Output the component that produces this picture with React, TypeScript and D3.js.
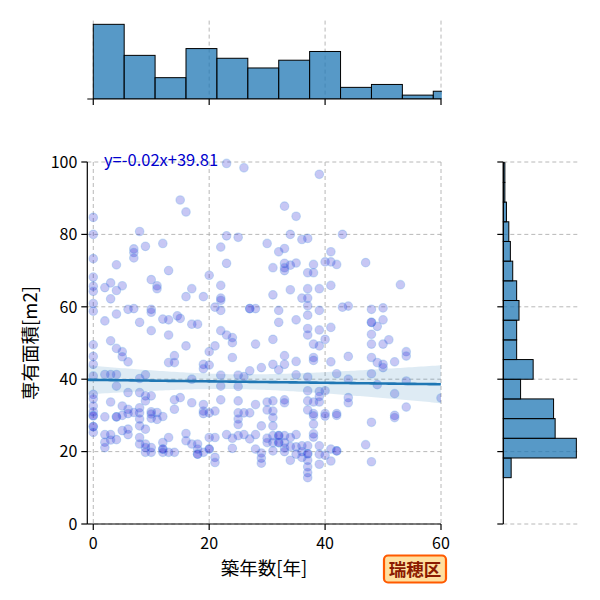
import React from 'react';
import * as d3 from 'd3';

// 築年数 / 専有面積 pairs
const points: [number, number][] = [
    [15, 89.5], [16, 86.2], [0, 84.7], [0, 80], [8, 80.8], [7, 76], [7, 75], [7, 73.5], [9, 76.7], [12, 77.5],
    [0, 73.3], [4, 71.6], [13, 70], [0, 68.2], [0, 65.7], [0, 64.3], [2, 65.3], [3, 66.6], [4, 64.5], [5, 65.8],
    [3, 62.2], [10, 67.5], [11, 65.8], [11, 65], [16, 62.8], [17, 65], [19, 62.8], [0, 60.9], [0, 58.8], [4, 58],
    [6, 59.3], [7, 59.5], [10, 59.3], [10, 58.5], [14.5, 57.5],
    [23, 99.6], [26, 98.4], [39, 96.6], [33, 87.8], [35, 85], [23, 79.6], [25, 79.2], [22, 76.5], [34, 80], [36, 78.6],
    [37, 78.9], [30, 77.5], [32, 75.2], [33, 76.1], [23, 72], [31, 70.8], [33, 72], [33, 70.8], [33, 70], [34, 71.5],
    [35, 72.1], [38, 71.7], [37, 69.4], [38, 69.4], [40, 72.4], [20, 68.7], [22, 65.9], [22, 62.4], [22, 61.8], [31, 63.3],
    [34, 64.7], [36, 62.4], [37, 65], [37, 62.4], [37, 60.3], [39, 65], [21, 59.9], [22, 59], [27, 59.5], [27, 59.5],
    [28, 59.5], [32, 59], [37, 57.7], [39, 59],
    [43, 80], [41, 75.2], [41, 72.4], [42, 71.7], [47, 72.2], [41, 65.9], [53, 66.1], [43, 59.9], [44, 60.2], [48, 59.3],
    [50, 59.7],
    [2, 56.1], [8, 55.7], [12, 56.6], [13, 56.4], [15, 56.8], [17, 55.2], [18, 55.2], [10, 53.4], [13, 52.2], [22, 53.4],
    [23, 52.2], [24, 51.5], [24, 50.1], [28, 49.7], [3, 50.6], [0, 49.5], [4, 48.5], [5, 47.6], [5, 46.2], [6, 44.8],
    [0, 46.3], [0, 44.1], [16, 49.2], [14, 46.5], [13, 44.6], [14, 44.6], [20, 47.6], [20, 43.9], [19, 44.1], [19, 42.9],
    [21, 49.2], [24, 46], [27, 42.3], [29, 43.2], [0, 40.9], [2, 41.3], [3, 41.3], [4, 41.3], [4, 38.1], [8, 40.2],
    [9, 41.2], [22, 41.1], [22, 38.1], [25, 41.1], [26, 40.7], [25, 38], [17, 40], [0, 35.8], [0, 34.6], [3, 33.7],
    [6, 36.3], [8, 36.3], [9, 35.4], [10, 35.4], [9, 34], [14, 34.3], [15, 34.9], [17, 33.5], [19, 33], [19, 31.2],
    [22, 34.3], [25, 34], [5, 32.6], [6, 31.7], [8, 32.1], [8, 30.7], [0, 32.6], [0, 31], [14, 31.7], [10, 31],
    [11, 30.8], [20, 30.7], [21, 31.2], [25, 30.7], [26, 30.7], [27, 30.7], [28, 33],
    [32, 55.7], [35, 56.4], [37, 54], [37, 52.2], [39, 53.6], [41, 54.3], [40, 51], [31, 51], [38, 49.7], [39, 49.2],
    [48, 55.7], [48, 55.7], [49, 54.6], [50, 56.4], [48, 52.4], [48, 49.7], [50, 49.7], [51, 50.9], [44, 46.3], [33, 46.5],
    [33, 44.1], [31, 44.1], [32, 42.6], [35, 44.9], [38, 46], [38, 45.2], [41, 44.8], [48, 46], [49, 44.6], [50, 44.1],
    [50, 43.2], [52, 44.8], [54, 47.6], [54, 46.4], [35, 41.2], [37, 40.6], [42, 41.5], [48, 41.5], [44, 40], [54, 39.5],
    [37, 36.8], [39, 36.6], [40, 36.8], [52, 36], [49, 38.5], [30, 33.7], [31, 34], [33, 34.3], [33, 33.5], [37, 34],
    [38, 33.7], [39, 33.7], [39, 35.2], [44, 34.9], [44, 33.5], [54, 32.3], [60, 34.8], [30, 31.5], [31, 31.2], [37, 31.5],
    [38, 30.5], [40, 30.5], [42, 30.5], [52, 30],
    [0, 29.9], [0, 29.9], [0, 26.9], [0, 26.9], [0, 25.3], [2, 29.6], [4, 29.6], [4, 29.6], [5, 30], [6, 30.5],
    [7, 30.8], [8, 29], [8, 27.1], [9, 26.2], [10, 30.4], [10, 29.2], [11, 28.9], [12, 29.7], [2, 24.7], [3, 24.7],
    [4, 23.3], [3, 23.2], [5, 25.8], [6, 24.7], [6, 26.2], [2, 22.6], [2, 21.1], [8, 23.9], [8, 22.1], [9, 22.1],
    [9, 21.1], [10, 21.1], [10, 19.8], [9, 19.8], [12, 22.5], [12, 20.7], [12, 20.7], [12, 19.8], [13, 23.9], [13, 19.8],
    [14, 19.8], [16, 25], [16, 23], [17, 22.1], [18, 22.1], [18, 20.7], [18, 19.3], [18, 19.3], [19, 19.8], [20, 20.7],
    [20, 20.7], [20, 23.9], [21, 23.9], [21, 18.4], [21, 17], [19, 30.5], [23, 24.7], [24, 23.7], [25, 24.4], [26, 24.7],
    [27, 23.5], [28, 24.7], [29, 27.1], [24, 20.9], [28, 20.7], [29, 19.6], [29, 18.2], [29, 16.8], [25, 29], [25, 27.5],
    [31, 29.4], [31, 27.1], [31, 24.4], [31, 22.5], [31, 20.2], [32, 22.5], [32, 22.5], [32, 24.4], [32, 24.4], [33, 24.4],
    [33, 22.5], [33, 21], [33, 20], [34, 23.9], [34, 21.4], [34, 17.6], [35, 24.7], [35, 21.3], [35, 19.3], [36, 21.6],
    [36, 20], [36, 18.4], [37, 21.6], [37, 19.4], [37, 19.4], [37, 17.6], [37, 15.8], [37, 14.2], [37, 12.8], [38, 29.9],
    [38, 27.6], [38, 24.9], [38, 24], [39, 21.6], [39, 19.3], [39, 16.5], [40, 29.8], [40, 19], [41, 20.7], [41, 17.4],
    [42, 30], [42, 20.2], [42, 20.2], [47, 21.9], [48, 28.1], [48, 17.2], [52, 29.4], [30, 23.7], [30, 22.5],
];

// marginal histograms (counts)
const xBinStart = 0;
const xBinEnd = 64;
const xHistCounts = [77, 45, 22, 52, 42, 32, 40, 49, 12, 15, 4, 8];
const yBinStart = 12.8;
const yBinEnd = 99.8;
const yHistCounts = [10, 93, 66, 64, 22, 38, 17, 17, 20, 17, 12, 9, 7, 4, 2, 2];

const slope = -0.02;
const intercept = 39.81;
const xTicks = [0, 20, 40, 60];
const yTicks = [0, 20, 40, 60, 80, 100];
const xLabel = '築年数[年]';
const yLabel = '専有面積[m2]';
const wardLabel = '瑞穂区';

const FONT = '"Noto Sans CJK JP", "Noto Sans", sans-serif';
const GRID = '#b0b0b0';

export default function App() {
    const W = 600;
    const H = 600;
    const mL = 87.3, mR = 441, mT = 162, mB = 524;

    const x = d3.scaleLinear().domain([-1.03, 60]).range([mL, mR]);
    const y = d3.scaleLinear().domain([0, 100]).range([mB, mT]);

    // top histogram
    const topBase = 99;
    const yTop = d3.scaleLinear().domain([0, d3.max(xHistCounts)! * 1.05]).range([topBase, 20.6]);
    const xStep = (xBinEnd - xBinStart) / xHistCounts.length;

    // right histogram
    const rBase = 503.3;
    const xRight = d3.scaleLinear().domain([0, d3.max(yHistCounts)! * 1.05]).range([rBase, 580]);
    const yStep = (yBinEnd - yBinStart) / yHistCounts.length;

    // regression confidence band from the points
    const n = points.length;
    const xm = d3.mean(points, (p) => p[0])!;
    const sxx = d3.sum(points, (p) => (p[0] - xm) ** 2);
    const sse = d3.sum(points, (p) => (p[1] - (intercept + slope * p[0])) ** 2);
    const s = Math.sqrt(sse / (n - 2));
    const lineXs = d3.range(-1.03, 60.01, 0.5);
    const band = lineXs.map((xv) => {
        const yh = intercept + slope * xv;
        const se = s * Math.sqrt(1 / n + (xv - xm) ** 2 / sxx);
        return { xv, lo: yh - 1.96 * se, hi: yh + 1.96 * se };
    });
    const area = d3
        .area<{ xv: number; lo: number; hi: number }>()
        .x((d) => x(d.xv))
        .y0((d) => y(d.lo))
        .y1((d) => y(d.hi));
    const regLine = d3
        .line<number>()
        .x((d) => x(d))
        .y((d) => y(intercept + slope * d));

    return (
        <svg width={W} height={H} style={{ position: 'absolute', left: 0, top: 0 }} fontFamily={FONT}>
            <defs>
                <clipPath id="mainClip">
                    <rect x={mL} y={mT - 6} width={mR - mL} height={mB - mT + 6} />
                </clipPath>
                <clipPath id="topClip">
                    <rect x={mL} y={0} width={mR - mL + 0.8} height={topBase} />
                </clipPath>
            </defs>

            {/* top histogram */}
            <g>
                {xTicks.map((t) => (
                    <line key={t} x1={x(t)} x2={x(t)} y1={20.6} y2={topBase} stroke={GRID} strokeDasharray="4,3" strokeWidth={0.9} />
                ))}
                <g clipPath="url(#topClip)">
                    {xHistCounts.map((c, i) => (
                        <rect
                            key={i}
                            x={x(xBinStart + i * xStep)}
                            y={yTop(c)}
                            width={x(xBinStart + (i + 1) * xStep) - x(xBinStart + i * xStep)}
                            height={topBase - yTop(c)}
                            fill="rgba(31,119,180,0.75)"
                            stroke="#000"
                            strokeWidth={1}
                        />
                    ))}
                </g>
                <line x1={mL} x2={mR} y1={topBase} y2={topBase} stroke="#000" strokeWidth={1.2} />
                {xTicks.map((t) => (
                    <line key={t} x1={x(t)} x2={x(t)} y1={topBase} y2={topBase + 6} stroke="#000" strokeWidth={1.2} />
                ))}
            </g>

            {/* right histogram */}
            <g>
                {yTicks.map((t) => (
                    <line key={t} x1={rBase} x2={580} y1={y(t)} y2={y(t)} stroke={GRID} strokeDasharray="4,3" strokeWidth={0.9} />
                ))}
                {yHistCounts.map((c, i) => (
                    <rect
                        key={i}
                        x={rBase}
                        y={y(yBinStart + (i + 1) * yStep)}
                        width={xRight(c) - rBase}
                        height={y(yBinStart + i * yStep) - y(yBinStart + (i + 1) * yStep)}
                        fill="rgba(31,119,180,0.75)"
                        stroke="#000"
                        strokeWidth={1}
                    />
                ))}
                <line x1={rBase} x2={rBase} y1={mT} y2={mB} stroke="#000" strokeWidth={1.2} />
                {yTicks.map((t) => (
                    <line key={t} x1={rBase - 6} x2={rBase} y1={y(t)} y2={y(t)} stroke="#000" strokeWidth={1.2} />
                ))}
            </g>

            {/* main joint axes */}
            <g>
                {xTicks.map((t) => (
                    <line key={'gx' + t} x1={x(t)} x2={x(t)} y1={mT} y2={mB} stroke={GRID} strokeDasharray="4,3" strokeWidth={0.9} />
                ))}
                {yTicks.map((t) => (
                    <line key={'gy' + t} x1={mL} x2={mR} y1={y(t)} y2={y(t)} stroke={GRID} strokeDasharray="4,3" strokeWidth={0.9} />
                ))}
                <g clipPath="url(#mainClip)">
                    {points.map((p, i) => (
                        <circle
                            key={i}
                            cx={x(p[0])}
                            cy={y(p[1])}
                            r={4.3}
                            fill="#0000cd"
                            fillOpacity={0.22}
                            stroke="#5aa0e6"
                            strokeOpacity={0.3}
                            strokeWidth={1.1}
                        />
                    ))}
                    <path d={area(band) || ''} fill="#1f77b4" fillOpacity={0.15} />
                    <path d={regLine(lineXs) || ''} fill="none" stroke="#1f77b4" strokeWidth={2.6} />
                </g>
                <line x1={mL} x2={mL} y1={mT} y2={mB} stroke="#000" strokeWidth={1.2} />
                <line x1={mL} x2={mR} y1={mB} y2={mB} stroke="#000" strokeWidth={1.2} />
                {yTicks.map((t) => (
                    <g key={'ty' + t}>
                        <line x1={mL - 6} x2={mL} y1={y(t)} y2={y(t)} stroke="#000" strokeWidth={1.2} />
                        <text x={mL - 10} y={y(t)} dy="0.36em" textAnchor="end" fontSize={16} fill="#000">
                            {t}
                        </text>
                    </g>
                ))}
                {xTicks.map((t) => (
                    <g key={'tx' + t}>
                        <line x1={x(t)} x2={x(t)} y1={mB} y2={mB + 6} stroke="#000" strokeWidth={1.2} />
                        <text x={x(t)} y={mB + 25} textAnchor="middle" fontSize={16} fill="#000">
                            {t}
                        </text>
                    </g>
                ))}
                <text x={104} y={166} fontSize={16.5} fill="#0000cd">
                    {`y=${slope.toFixed(2)}x+${intercept.toFixed(2)}`}
                </text>
                <text x={264} y={575} textAnchor="middle" fontSize={18.5} fill="#000">
                    {xLabel}
                </text>
                <text transform="translate(37,343) rotate(-90)" textAnchor="middle" fontSize={18.5} fill="#000">
                    {yLabel}
                </text>
            </g>

            {/* ward label */}
            <g>
                <rect x={384} y={555.5} width={62} height={27} rx={4} fill="#ffdf9f" stroke="#ff5a00" strokeWidth={2.2} />
                <text x={415} y={575.5} textAnchor="middle" fontSize={17.5} fontWeight="bold" fill="#8b1a00">
                    {wardLabel}
                </text>
            </g>
        </svg>
    );
}
